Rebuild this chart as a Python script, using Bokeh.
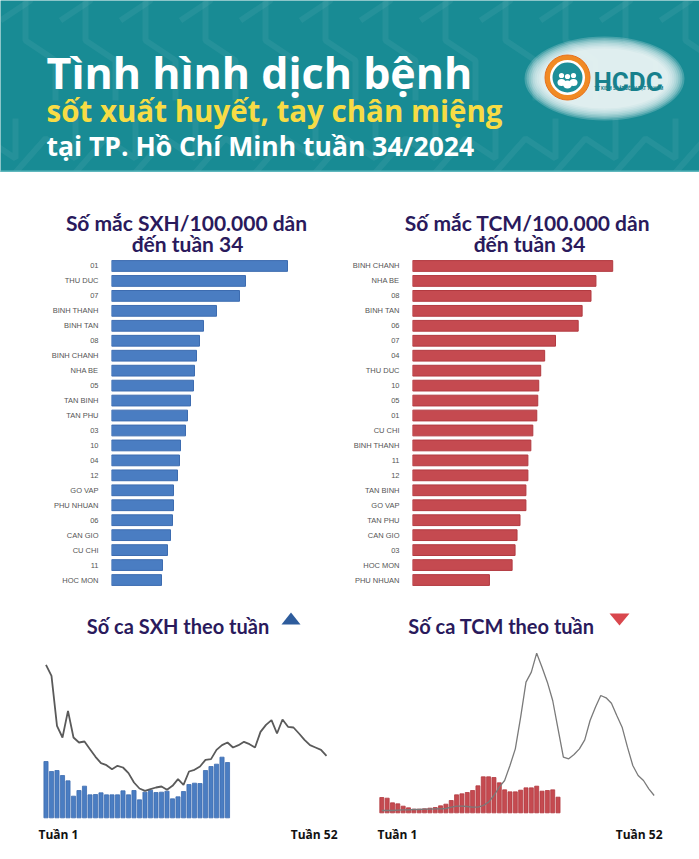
from bokeh.plotting import figure
from bokeh.models import Range1d, FactorRange
from bokeh.layouts import column, row
from bokeh.embed import file_html
from bokeh.resources import INLINE
from bokeh.core.properties import value

# ---------------- data ----------------
sxh_districts = ["01", "THU DUC", "07", "BINH THANH", "BINH TAN", "08", "BINH CHANH",
                 "NHA BE", "05", "TAN BINH", "TAN PHU", "03", "10", "04", "12", "GO VAP",
                 "PHU NHUAN", "06", "CAN GIO", "CU CHI", "11", "HOC MON"]
sxh_rate = [176, 134, 128, 105, 92, 88, 85, 83, 82, 79, 76, 74, 69, 68, 66, 62, 62, 61,
            59, 56, 51, 50]

tcm_districts = ["BINH CHANH", "NHA BE", "08", "BINH TAN", "06", "07", "04", "THU DUC",
                 "10", "05", "01", "CU CHI", "BINH THANH", "11", "12", "TAN BINH", "GO VAP",
                 "TAN PHU", "CAN GIO", "03", "HOC MON", "PHU NHUAN"]
tcm_rate = [203, 186, 181, 172, 168, 145, 134, 130, 128, 127, 126, 122, 120, 117, 117, 115,
            115, 109, 106, 104, 101, 78]

weeks_2024 = list(range(1, 35))
weeks_all = list(range(1, 53))

sxh_weekly_2024 = [169, 139, 142, 127, 111, 65, 82, 95, 69, 70, 75, 69, 69, 69, 81, 69, 82,
                   54, 77, 83, 76, 77, 80, 57, 63, 79, 100, 104, 103, 142, 154, 161, 182, 166]
sxh_weekly_ref = [459, 426, 276, 241, 321, 241, 226, 229, 206, 183, 164, 158, 146, 156, 151,
                  134, 106, 88, 81, 86, 91, 94, 84, 96, 116, 99, 139, 144, 154, 174, 176, 204,
                  218, 226, 211, 218, 228, 221, 211, 258, 279, 293, 253, 295, 273, 271, 253,
                  234, 218, 211, 204, 186]

tcm_weekly_2024 = [46, 44, 30, 27, 20, 15, 11, 11, 12, 14, 16, 21, 26, 37, 54, 57, 61, 67, 81,
                   108, 108, 106, 90, 69, 63, 63, 68, 75, 75, 80, 65, 67, 69, 47]
tcm_weekly_ref = [7, 7, 7, 8, 9, 9, 10, 10, 11, 11, 12, 12, 13, 17, 20, 20, 19, 17, 17, 22, 32,
                  52, 77, 97, 142, 192, 287, 392, 422, 479, 437, 392, 337, 252, 167, 162, 175,
                  192, 219, 277, 317, 352, 345, 329, 292, 257, 197, 142, 112, 97, 72, 52]

# ---------------- styles ----------------
TEAL = "#188b94"
NAVY = "#2a1a5c"
BLUE = "#4a7dc2"
BLUE_EDGE = "#3d6cb0"
RED = "#c54a50"
RED_EDGE = "#b23a40"
YELLOW = "#f7dc45"
GRAY_LABEL = "#555555"

W = 699
WL, WR = 349, 350
H_HEAD, H_TITLE, H_BAR, H_COMBO = 172, 86, 337, 264


def blank(width, height, bg="white"):
    p = figure(width=width, height=height, x_range=Range1d(0, width),
               y_range=Range1d(height, 0), x_axis_type=None, y_axis_type=None,
               output_backend="svg", toolbar_location=None, min_border=0)
    p.outline_line_color = None
    p.background_fill_color = bg
    p.border_fill_color = bg
    return p


def txt(p, x, y, s, size, color, font="Lato", align="left", style="bold", **kw):
    p.text(x=[x], y=[y], text=[s], text_font=value(font), text_font_size=size,
           text_font_style=style, text_color=color, text_align=align,
           text_baseline="alphabetic", **kw)


# ---------------- header ----------------
header = blank(W, H_HEAD, TEAL)
pat_xs, pat_ys = [], []
for i in range(-2, 14):
    x0 = i * 60
    pat_xs.append([x0, x0 + 30, x0 + 30, x0 + 60])
    pat_ys.append([20, 0, -20, -40])
for i in range(-2, 14):
    x0 = i * 60 + 15
    pat_xs.append([x0, x0 + 30, x0 + 60, x0 + 60])
    pat_ys.append([172, 138, 158, 118])
    pat_xs.append([x0 + 10, x0 + 10, x0 + 40, x0 + 40])
    pat_ys.append([0, 40, 60, 100])
header.multi_line(xs=pat_xs, ys=pat_ys, line_color="#ffffff", line_alpha=0.06, line_width=6)
header.line(x=[0, W], y=[171, 171], line_color="#5fb7bd", line_width=2)

txt(header, 46, 72, "Tình hình dịch bệnh", "43px", "white", font="Open Sans")
txt(header, 46, 110, "sốt xuất huyết, tay chân miệng", "29.5px", YELLOW, font="Open Sans")
txt(header, 46, 145, "tại TP. Hồ Chí Minh tuần 34/2024", "26.5px", "white", font="Open Sans")

# logo
for k in range(9):
    header.ellipse(x=[604], y=[78], width=[160 - 4 * k], height=[84 - 3 * k],
                   fill_color="white", fill_alpha=0.2, line_color=None)
cx, cy = 567, 77
header.circle(x=[cx], y=[cy], radius=22.5, fill_color="#f08a24", line_color="#e8701a")
header.circle(x=[cx], y=[cy], radius=17.5, fill_color="white", line_color=None)
header.circle(x=[cx], y=[cy], radius=15, fill_color="#1d8e98", line_color=None)
header.circle(x=[cx - 6, cx + 6, cx], y=[cy - 2, cy - 2, cy - 1], radius=2.6,
              fill_color="white", line_color=None)
header.ellipse(x=[cx - 6, cx + 6, cx], y=[cy + 5, cy + 5, cy + 7], width=[8, 8, 9],
               height=[7, 7, 8], fill_color="white", line_color=None)
txt(header, 593, 81, "HCDC", "26px", "#17808c", font="Roboto")
txt(header, 594, 88, "TT KIỂM SOÁT BỆNH TẬT TP.HCM", "4.5px", "#17808c", font="Roboto")

# ---------------- bar chart titles ----------------
title_l = blank(WL, H_TITLE)
txt(title_l, 186, 50, "Số mắc SXH/100.000 dân", "21px", NAVY, align="center")
txt(title_l, 187, 71, "đến tuần 34", "21px", NAVY, align="center")

title_r = blank(WR, H_TITLE)
txt(title_r, 178, 50, "Số mắc TCM/100.000 dân", "21px", NAVY, align="center")
txt(title_r, 180, 71, "đến tuần 34", "21px", NAVY, align="center")


# ---------------- horizontal bar charts ----------------
def hbars(width, border_left, cats, vals, color, edge):
    frame_w = width - border_left
    p = figure(width=width, height=H_BAR, y_range=FactorRange(factors=list(reversed(cats))),
               x_range=Range1d(0, frame_w), x_axis_type=None,
               output_backend="svg", toolbar_location=None,
               min_border_left=border_left, min_border_right=0,
               min_border_top=0, min_border_bottom=8)
    p.hbar(y=cats, right=vals, left=0, height=0.72, fill_color=color, line_color=edge,
           line_width=1)
    p.outline_line_color = None
    p.ygrid.grid_line_color = None
    p.yaxis.axis_line_color = None
    p.yaxis.major_tick_line_color = None
    p.yaxis.minor_tick_line_color = None
    p.yaxis.major_label_standoff = 7
    p.yaxis.major_label_text_font = "Liberation Sans"
    p.yaxis.major_label_text_font_size = "7.5px"
    p.yaxis.major_label_text_color = GRAY_LABEL
    return p


bar_l = hbars(WL, 111, sxh_districts, sxh_rate, BLUE, BLUE_EDGE)
bar_r = hbars(WR, 59, tcm_districts, tcm_rate, RED, RED_EDGE)


# ---------------- weekly combo charts ----------------
def combo(width, xr, yr, bars, ref, color, edge, line_color, line_w, title, tx,
          tri_x, tri_y, tri_color, lab1_x, lab52_x):
    p = figure(width=width, height=H_COMBO, x_range=Range1d(*xr), y_range=Range1d(*yr),
               x_axis_type=None, y_axis_type=None, output_backend="svg",
               toolbar_location=None, min_border=0)
    p.outline_line_color = None
    p.extra_x_ranges = {"px": Range1d(0, width)}
    p.extra_y_ranges = {"px": Range1d(H_COMBO, 0)}
    p.vbar(x=weeks_2024, top=bars, bottom=0, width=0.75, fill_color=color,
           line_color=edge, line_width=0.8)
    p.line(x=weeks_all, y=ref, line_color=line_color, line_width=line_w)
    txt(p, tx, 30, title, "20px", NAVY, align="center", x_range_name="px",
        y_range_name="px")
    p.patch(x=tri_x, y=tri_y, fill_color=tri_color, line_color=None,
            x_range_name="px", y_range_name="px")
    txt(p, lab1_x, 239, "Tuần 1", "12px", "#111111", font="Open Sans",
        x_range_name="px", y_range_name="px")
    txt(p, lab52_x, 239, "Tuần 52", "12px", "#111111", font="Open Sans", align="right",
        x_range_name="px", y_range_name="px")
    return p


combo_l = combo(WL, (-7.27, 56.18), (-125, 667), sxh_weekly_2024, sxh_weekly_ref,
                BLUE, BLUE_EDGE, "#5a5a5a", 1.8, "Số ca SXH theo tuần", 177.5,
                [281, 300, 290.5], [29, 29, 17], "#2e5c9c", 38, 337)
combo_r = combo(WR, (-5.05, 60.49), (-140, 652), tcm_weekly_2024, tcm_weekly_ref,
                RED, RED_EDGE, "#7a7a7a", 1.3, "Số ca TCM theo tuần", 152,
                [260, 280, 270], [18, 18, 30], "#d9474d", 28, 313)

layout = column(header, row(title_l, title_r), row(bar_l, bar_r), row(combo_l, combo_r))

open("out.html", "w").write(file_html(layout, INLINE))
